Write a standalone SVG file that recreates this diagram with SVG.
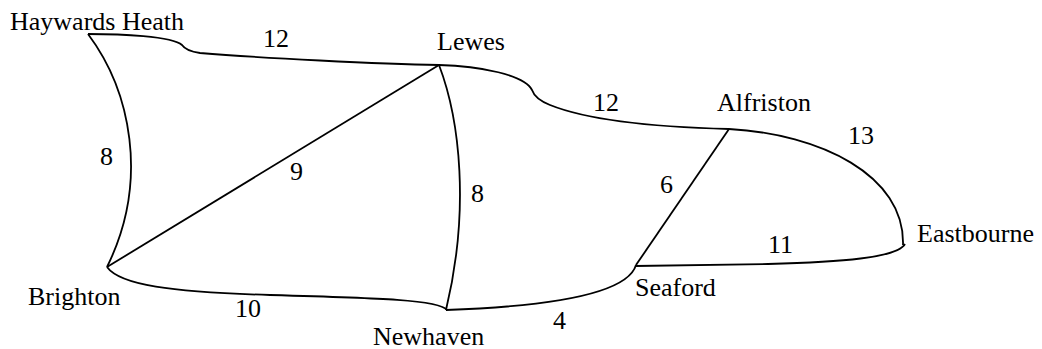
<svg xmlns="http://www.w3.org/2000/svg" width="1042" height="349" viewBox="0 0 1042 349">
<style>
.e{fill:none;stroke:#000;stroke-width:1.8;stroke-linejoin:round}
.t{font-size:26px;fill:#000}
</style>
<rect width="1042" height="349" fill="#fff"/>
<g id="connectors">
<path class="e" d="M88,34 C120,34 172,36 182,45 Q186,51 200,53 C260,58 380,64 439,65"/>
<path class="e" d="M88,34 C130,90 150,180 107,267"/>
<path class="e" d="M107,267 L439,65"/>
<path class="e" d="M439,65 C460,120 470,210 446,310"/>
<path class="e" d="M439,65 C480,66 525,75 532,90 Q535,99 550,105 C585,119 650,127 729,129"/>
<path class="e" d="M729,129 C820,134 905,175 903,245"/>
<path class="e" d="M905,244 C897,258 840,262 768,264 L635,266"/>
<path class="e" d="M729,129 L636,265"/>
<path class="e" d="M636,265 C628,292 560,306 446,310"/>
<path class="e" d="M107,267 C120,285 170,292 270,295 C380,298 440,300 447,310"/>
</g>
<g font-family="'Liberation Serif', 'DejaVu Serif', serif">
<g id="n-haywards"><text class="t" x="10" y="30">Haywards Heath</text></g>
<g id="n-lewes"><text class="t" x="437" y="50">Lewes</text></g>
<g id="n-alfriston"><text class="t" x="717" y="111">Alfriston</text></g>
<g id="n-eastbourne"><text class="t" x="917" y="242">Eastbourne</text></g>
<g id="n-seaford"><text class="t" x="635" y="296">Seaford</text></g>
<g id="n-newhaven"><text class="t" x="373" y="345">Newhaven</text></g>
<g id="n-brighton"><text class="t" x="28" y="305">Brighton</text></g>
<g id="labels">
<text class="t" x="263" y="47">12</text>
<text class="t" x="593" y="111">12</text>
<text class="t" x="848" y="144">13</text>
<text class="t" x="660" y="193">6</text>
<text class="t" x="768" y="253">11</text>
<text class="t" x="100" y="165">8</text>
<text class="t" x="290" y="180">9</text>
<text class="t" x="471" y="202">8</text>
<text class="t" x="235" y="317">10</text>
<text class="t" x="553" y="329">4</text>
</g>
</g>
</svg>
